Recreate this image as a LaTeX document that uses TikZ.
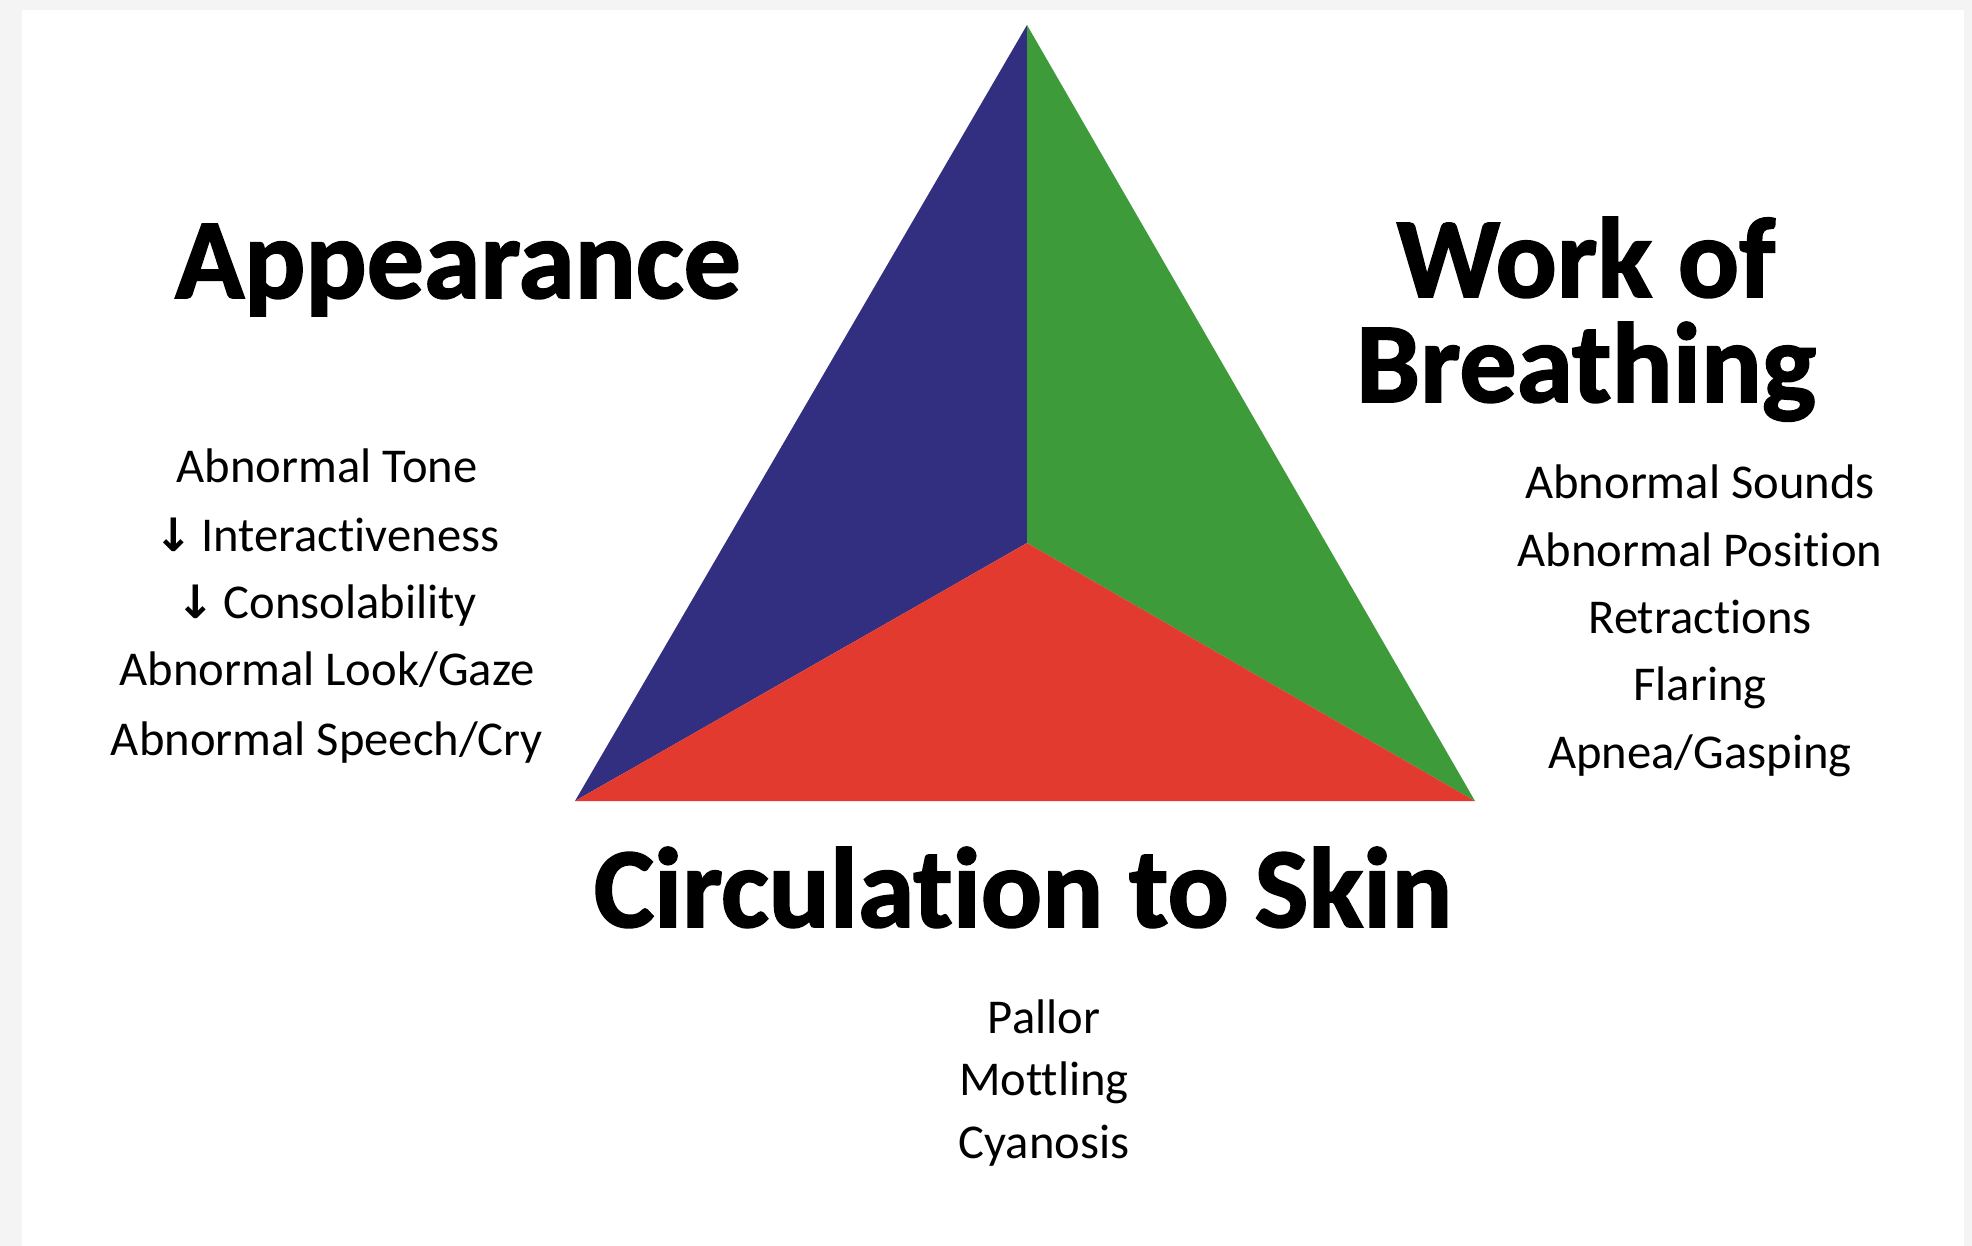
\documentclass[tikz,border=0pt]{standalone}
\usepackage{fontspec}
\setmainfont{Carlito}[Ligatures={NoCommon}]
\newfontfamily\heavyfont{Carlito}[Ligatures={NoCommon},BoldFeatures={FakeBold=1.6}]
\newfontfamily\arrowfont{DejaVu Sans}
\definecolor{triblue}{RGB}{50,46,128}
\definecolor{trigreen}{RGB}{62,155,58}
\definecolor{trired}{RGB}{226,58,46}
\definecolor{frame}{RGB}{244,244,244}
\tikzset{
  head/.style={font=\heavyfont\bfseries\fontsize{57}{62}\selectfont, anchor=base, inner sep=0pt},
  item/.style={font=\fontsize{24.3}{28}\selectfont, anchor=base, inner sep=0pt},
}
\newcommand{\dn}{{\arrowfont\bfseries\fontsize{23}{26}\selectfont↓}\,}
\begin{document}
\begin{tikzpicture}[x=0.5pt,y=-0.5pt]
\useasboundingbox (0,0) rectangle (1972,1246);
\fill[frame] (0,0) rectangle (1972,1246);
\fill[white] (22,10) rectangle (1964,1246);
% triangle
\coordinate (apex) at (1027,25);
\coordinate (bl) at (575,801);
\coordinate (br) at (1475,801);
\coordinate (c) at (1027,543);
\fill[triblue] (apex) -- (bl) -- (c) -- cycle;
\fill[trigreen] (apex) -- (c) -- (br) -- cycle;
\fill[trired] (bl) -- (c) -- (br) -- cycle;
% headings
\node[head] (app) at (458,298) {Appearance};
\node[head] (wob1) at (1586,297) {Work of};
\node[head] (wob2) at (1586,402) {Breathing};
\node[head] (circ) at (1023,927) {Circulation to Skin};
% appearance items
\node[item] (a1) at (327,482) {Abnormal Tone};
\node[item] (a2) at (327,551) {\dn Interactiveness};
\node[item] (a3) at (327,618) {\dn Consolability};
\node[item] (a4) at (327,685) {Abnormal Look/Gaze};
\node[item] (a5) at (327,755) {Abnormal Speech/Cry};
% breathing items
\node[item] (b1) at (1700,498) {Abnormal Sounds};
\node[item] (b2) at (1700,566) {Abnormal Position};
\node[item] (b3) at (1700,633) {Retractions};
\node[item] (b4) at (1700,700) {Flaring};
\node[item] (b5) at (1700,768) {Apnea/Gasping};
% circulation items
\node[item] (c1) at (1044,1033) {Pallor};
\node[item] (c2) at (1044,1095) {Mottling};
\node[item] (c3) at (1044,1158) {Cyanosis};
\end{tikzpicture}
\end{document}
